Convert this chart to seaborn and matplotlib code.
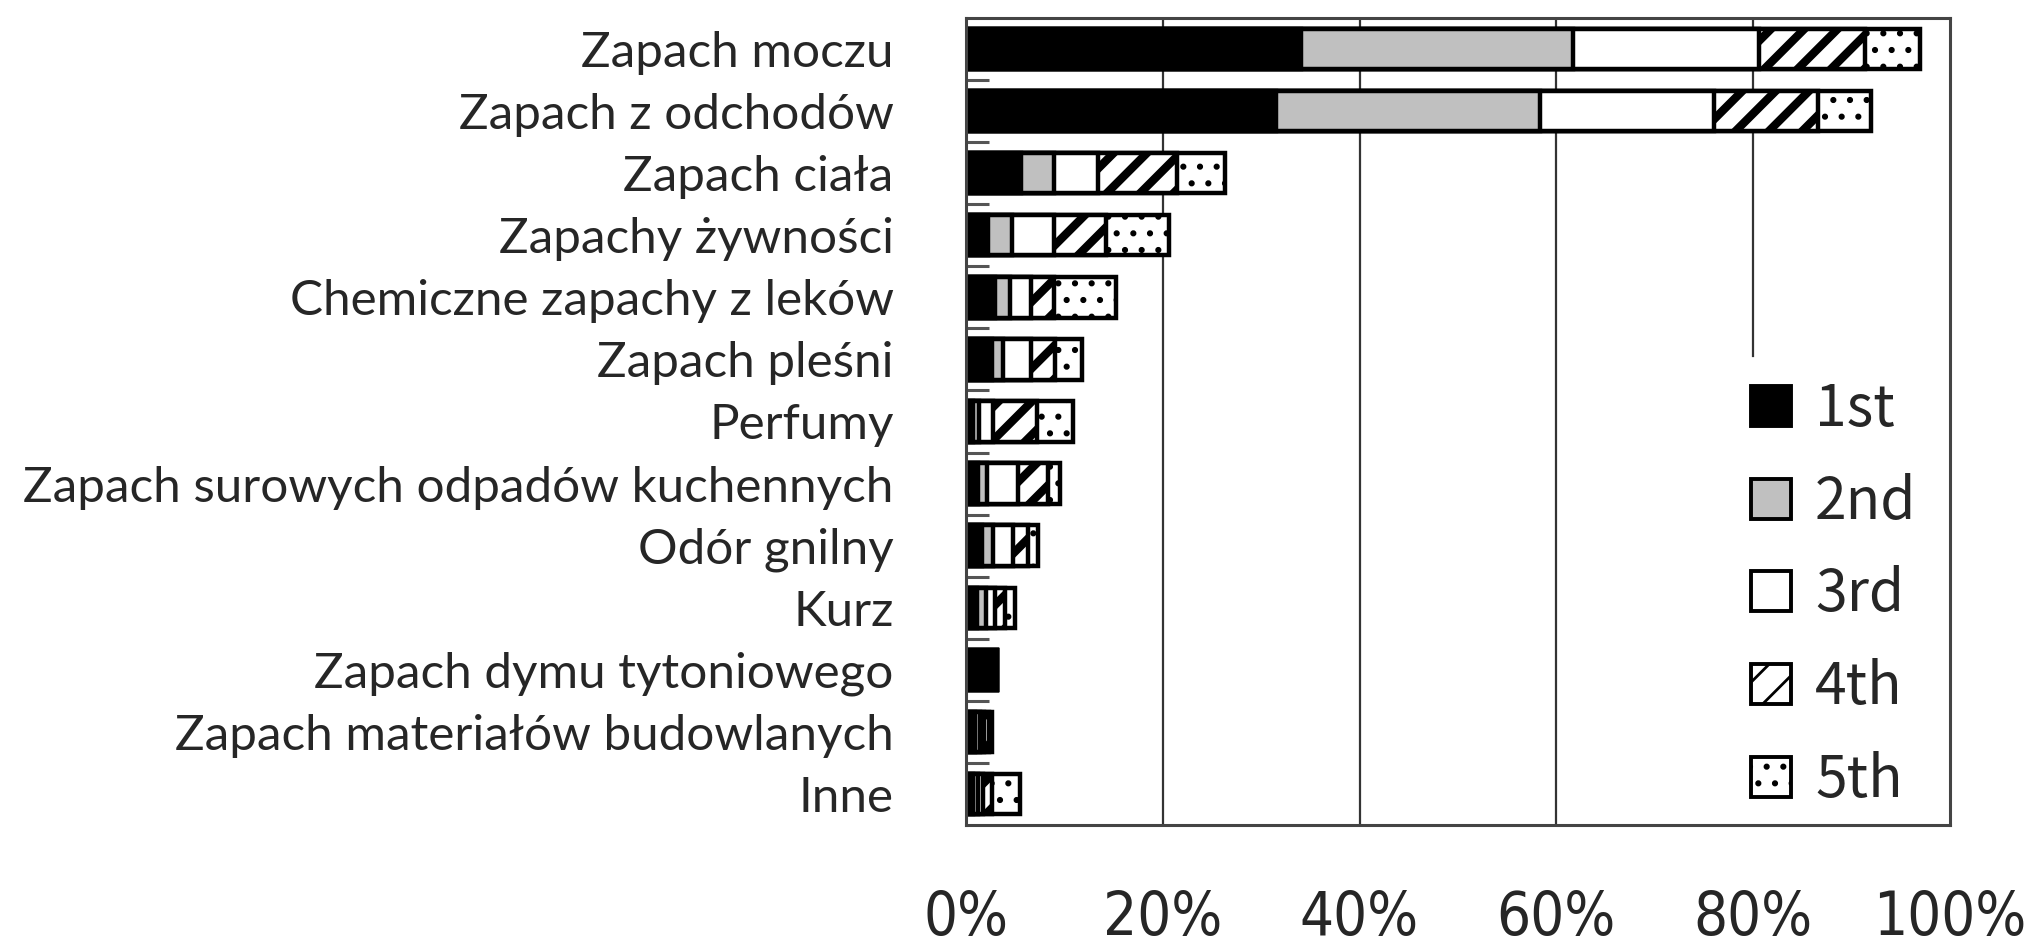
import numpy as np
import pandas as pd
import matplotlib
matplotlib.use("Agg")
import matplotlib.pyplot as plt
import seaborn as sns
from matplotlib.patches import Patch
from matplotlib.ticker import FixedLocator, FuncFormatter

# share (%) of respondents ranking each odour 1st..5th
categories = [
    "Zapach moczu",
    "Zapach z odchodów",
    "Zapach ciała",
    "Zapachy żywności",
    "Chemiczne zapachy z leków",
    "Zapach pleśni",
    "Perfumy",
    "Zapach surowych odpadów kuchennych",
    "Odór gnilny",
    "Kurz",
    "Zapach dymu tytoniowego",
    "Zapach materiałów budowlanych",
    "Inne",
]
first = [34.1, 31.5, 5.6, 2.2, 2.95, 2.6, 0.7, 1.25, 1.6, 1.1, 3.2, 0.9, 0.75]
second = [27.6, 26.8, 3.3, 2.5, 1.5, 1.2, 0.6, 0.85, 1.1, 0.95, 0.0, 0.5, 0.5]
third = [18.9, 17.7, 4.5, 4.3, 2.2, 2.8, 1.4, 3.2, 2.1, 0.9, 0.0, 0.4, 0.45]
fourth = [10.8, 10.6, 8.1, 5.2, 2.35, 2.45, 4.5, 3.0, 1.5, 1.0, 0.0, 0.5, 0.9]
fifth = [5.6, 5.4, 4.8, 6.4, 6.2, 2.75, 3.7, 1.3, 1.05, 1.0, 0.0, 0.3, 2.9]
rank_labels = ["1st", "2nd", "3rd", "4th", "5th"]
x_ticks = [0, 20, 40, 60, 80, 100]

face_colors = ["black", "#c0c0c0", "white", "white", "white"]
hatches = ["", "", "", "//", ".."]
hatch_lw = [1.0, 1.0, 1.0, 3.0, 1.0]

df = pd.DataFrame({"category": categories, "1st": first, "2nd": second,
                   "3rd": third, "4th": fourth, "5th": fifth})
cum = df[rank_labels].cumsum(axis=1)

sns.set_style("white")
plt.rcParams["hatch.color"] = "black"

fig = plt.figure(figsize=(10.14, 4.76), dpi=200)
ax = fig.add_axes([0.4763, 0.1334, 0.4852, 0.8477])

# vertical gridlines behind the bars
for v in x_ticks[1:-1]:
    ax.axvline(v, color="#333333", linewidth=0.8, zorder=0)

# stacked bars: draw cumulative totals from longest to shortest
for i in range(len(rank_labels) - 1, -1, -1):
    n_before = len(ax.patches)
    with plt.rc_context({"hatch.linewidth": hatch_lw[i]}):
        sns.barplot(x=cum[rank_labels[i]], y=df["category"], orient="h",
                    color=face_colors[i], saturation=1, edgecolor="black",
                    linewidth=1.6, hatch=hatches[i], width=0.65,
                    errorbar=None, ax=ax, zorder=2)
    for p in ax.patches[n_before:]:
        if hasattr(p, "set_hatch_linewidth"):
            p.set_hatch_linewidth(hatch_lw[i])

ax.set_xlim(0, 100)
ax.set_ylim(len(categories) - 0.5, -0.5)
ax.set_xlabel("")
ax.set_ylabel("")
ax.xaxis.set_major_locator(FixedLocator(x_ticks))
ax.xaxis.set_major_formatter(FuncFormatter(lambda v, p: f"{v:.0f}%"))
ax.tick_params(axis="x", length=0, pad=23, labelsize=21.5)
for lab in ax.get_xticklabels():
    lab.set_fontfamily(["Liberation Sans Narrow", "DejaVu Sans"])
    lab.set_fontstretch("condensed")

ax.tick_params(axis="y", which="major", length=0, pad=26, labelsize=17.8)
for lab in ax.get_yticklabels():
    lab.set_fontfamily(["Lato", "DejaVu Sans"])
ax.yaxis.set_minor_locator(FixedLocator(np.arange(0.5, len(categories) - 1, 1.0)))
ax.tick_params(axis="y", which="minor", direction="in", length=8.3,
               width=1.1, color="#555555", left=True)

for s in ax.spines.values():
    s.set_visible(True)
    s.set_color("#444444")
    s.set_linewidth(1.1)
    s.set_zorder(3)

handles = []
for i in range(5):
    h = Patch(facecolor=face_colors[i], edgecolor="black", hatch=hatches[i],
              linewidth=1.4, label=rank_labels[i])
    if hasattr(h, "set_hatch_linewidth"):
        h.set_hatch_linewidth(hatch_lw[i])
    handles.append(h)
leg = ax.legend(handles=handles, loc="center left", bbox_to_anchor=(0.838, 0.375),
                bbox_transform=fig.transFigure,
                frameon=True, fancybox=False, framealpha=1, edgecolor="white",
                facecolor="white", handlelength=0.7, handleheight=0.7,
                handletextpad=0.43, labelspacing=0.6, borderpad=0.4,
                prop={"family": ["Noto Sans CJK JP", "DejaVu Sans"], "size": 20.5})
leg.set_zorder(2.5)

fig.savefig("out.png", dpi=200)
